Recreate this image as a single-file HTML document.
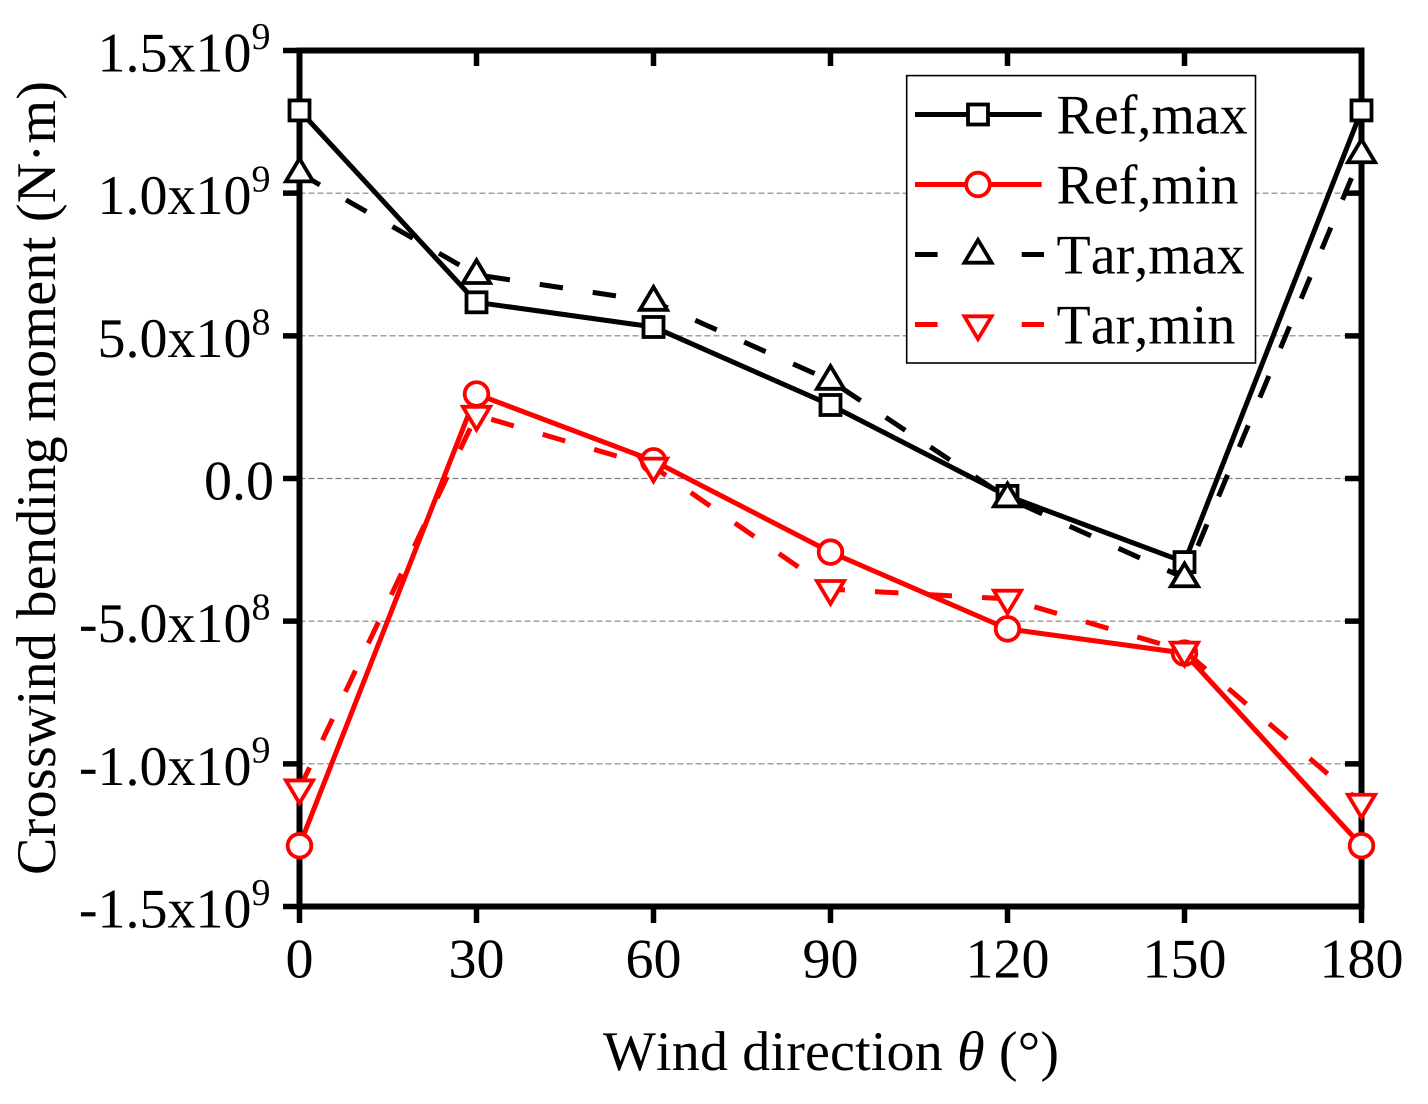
<!DOCTYPE html>
<html lang="en">
<head>
<meta charset="utf-8">
<title>Crosswind bending moment vs wind direction</title>
<style>
html,body{margin:0;padding:0;background:#fff;width:1428px;height:1104px;overflow:hidden}
svg{display:block;font-family:"Liberation Serif",serif;fill:#000;font-kerning:none;text-rendering:geometricPrecision}
</style>
</head>
<body>
<svg id="chart" xmlns="http://www.w3.org/2000/svg" width="1428" height="1104" viewBox="0 0 1428 1104">
  <rect x="0" y="0" width="1428" height="1104" fill="#fff"/>
  <g id="grid"></g>
  <g id="axes"></g>
  <g id="series"></g>
  <text x="603" y="1070" font-size="56" textLength="456">Wind direction <tspan font-style="italic">θ</tspan> (°)</text>
  <text transform="translate(55,875) rotate(-90)" font-size="56" textLength="794">Crosswind bending moment (N·m)</text>
  <g id="legend">
    <rect x="906.7" y="75.6" width="348.8" height="287.4" fill="#fff" stroke="#000" stroke-width="1.6"/>
    <text x="1056.5" y="133.5" font-size="56">Ref,max</text>
    <text x="1056.5" y="203.5" font-size="56">Ref,min</text>
    <text x="1056.5" y="273.5" font-size="56">Tar,max</text>
    <text x="1056.5" y="343.5" font-size="56">Tar,min</text>
  </g>
</svg>
<script>
const xValues = [0, 30, 60, 90, 120, 150, 180];
const refMax = [1.29e9, 0.6175e9, 0.531e9, 0.2576e9, -0.061e9, -0.293e9, 1.29e9];
const refMin = [-1.287e9, 0.296e9, 0.062e9, -0.258e9, -0.527e9, -0.612e9, -1.287e9];
const tarMax = [1.07e9, 0.714e9, 0.62e9, 0.343e9, -0.069e9, -0.349e9, 1.137e9];
const tarMin = [-1.087e9, 0.2225e9, 0.041e9, -0.388e9, -0.422e9, -0.604e9, -1.137e9];
const xTickValues = [0, 30, 60, 90, 120, 150, 180];
const xTickLabels = ['0', '30', '60', '90', '120', '150', '180'];
const yTickValues = [1.5e9, 1.0e9, 5.0e8, 0, -5.0e8, -1.0e9, -1.5e9];
const yTickMantissas = ['1.5x10', '1.0x10', '5.0x10', '0.0', '-5.0x10', '-1.0x10', '-1.5x10'];
const yTickExponents = ['9', '9', '8', '', '8', '9', '9'];

const NS = 'http://www.w3.org/2000/svg';
const plotLeft = 299.5, plotRight = 1361.5, plotTop = 50.5, plotBottom = 906.5;
function xScale(v) { return plotLeft + (v - 0) / 180 * (plotRight - plotLeft); }
function yScale(v) { return plotTop + (1.5e9 - v) / 3e9 * (plotBottom - plotTop); }
function make(tag, attrs) {
  const el = document.createElementNS(NS, tag);
  for (const k in attrs) el.setAttribute(k, attrs[k]);
  return el;
}
function drawMarker(parent, kind, cx, cy, color) {
  let el;
  if (kind === 'square') {
    el = make('rect', {x: cx - 10, y: cy - 10, width: 20, height: 20});
  } else if (kind === 'circle') {
    el = make('circle', {cx: cx, cy: cy, r: 11.8});
  } else if (kind === 'up') {
    el = make('path', {d: 'M' + (cx - 13.6) + ' ' + (cy + 8.2) + 'L' + (cx + 13.6) + ' ' + (cy + 8.2) + 'L' + cx + ' ' + (cy - 14.6) + 'Z'});
  } else {
    el = make('path', {d: 'M' + (cx - 13.6) + ' ' + (cy - 8.2) + 'L' + (cx + 13.6) + ' ' + (cy - 8.2) + 'L' + cx + ' ' + (cy + 14.6) + 'Z'});
  }
  el.setAttribute('fill', '#fff');
  el.setAttribute('stroke', color);
  el.setAttribute('stroke-width', '3.8');
  el.setAttribute('stroke-linejoin', 'miter');
  
  
  parent.appendChild(el);
}

const gridG = document.getElementById('grid');
yTickValues.slice(1, -1).forEach(function (v) {
  const line = make('line', {x1: plotLeft, x2: plotRight, y1: yScale(v), y2: yScale(v), stroke: '#808080', 'stroke-width': 1.2, 'stroke-dasharray': '6 3'});
  
  
  gridG.appendChild(line);
});

const axesG = document.getElementById('axes');
const frameParts = [
  [plotLeft, plotTop - 3, plotLeft, plotBottom + 3],
  [plotRight, plotTop - 3, plotRight, plotBottom + 3],
  [plotLeft - 3, plotTop, plotRight + 3, plotTop],
  [plotLeft - 3, plotBottom, plotRight + 3, plotBottom]
];
frameParts.forEach(function (p) {
  const line = make('line', {x1: p[0], y1: p[1], x2: p[2], y2: p[3], stroke: '#000', 'stroke-width': 6});
  
  
  axesG.appendChild(line);
});
yTickValues.forEach(function (v, i) {
  const y = yScale(v);
  const left = make('line', {x1: 283, x2: plotLeft, y1: y, y2: y, stroke: '#000', 'stroke-width': 5.5});
  
  
  axesG.appendChild(left);
  const right = make('line', {x1: 1345, x2: plotRight, y1: y, y2: y, stroke: '#000', 'stroke-width': 5.5});
  
  
  axesG.appendChild(right);
  const hasExp = yTickExponents[i] !== '';
  const label = make('text', {x: hasExp ? 251.5 : 274, y: y + 21, 'font-size': 56, 'text-anchor': 'end'});
  
  
  label.textContent = yTickMantissas[i];
  axesG.appendChild(label);
  if (hasExp) {
    const e = make('text', {x: 251.5, y: y - 1.5, 'font-size': 38});
    
    
    e.textContent = yTickExponents[i];
    axesG.appendChild(e);
  }
});
xTickValues.forEach(function (v, i) {
  const x = xScale(v);
  const bottom = make('line', {x1: x, x2: x, y1: plotBottom, y2: 923, stroke: '#000', 'stroke-width': 5.5});
  
  
  axesG.appendChild(bottom);
  const top = make('line', {x1: x, x2: x, y1: plotTop, y2: 66, stroke: '#000', 'stroke-width': 5.5});
  
  
  axesG.appendChild(top);
  const label = make('text', {x: x, y: 977.5, 'font-size': 56, 'text-anchor': 'middle'});
  
  
  label.textContent = xTickLabels[i];
  axesG.appendChild(label);
});

const seriesG = document.getElementById('series');
function drawSeries(name, values, color, dashed, kind) {
  const g = make('g', {});
  
  
  const pts = values.map(function (v, i) { return xScale(xValues[i]) + ',' + yScale(v); }).join(' ');
  const line = make('polyline', {points: pts, fill: 'none', stroke: color, 'stroke-width': 5, 'stroke-linejoin': 'miter'});
  if (dashed) line.setAttribute('stroke-dasharray', '23.5 30.1');
  
  
  g.appendChild(line);
  values.forEach(function (v, i) { drawMarker(g, kind, xScale(xValues[i]), yScale(v), color); });
  seriesG.appendChild(g);
}
drawSeries('series-ref-max', refMax, '#000', false, 'square');
drawSeries('series-ref-min', refMin, '#f00', false, 'circle');
drawSeries('series-tar-max', tarMax, '#000', true, 'up');
drawSeries('series-tar-min', tarMin, '#f00', true, 'down');

const legendG = document.getElementById('legend');
function drawLegendKey(name, y, color, dashed, kind) {
  const g = make('g', {});
  
  
  const segs = dashed ? [[915, 937.6], [1021.7, 1044]] : [[915, 1041.7]];
  segs.forEach(function (s) {
    const line = make('line', {x1: s[0], x2: s[1], y1: y, y2: y, stroke: color, 'stroke-width': 5});
    
    
    g.appendChild(line);
  });
  drawMarker(g, kind, 978, y, color);
  legendG.appendChild(g);
}
drawLegendKey('legend-key-ref-max', 114.5, '#000', false, 'square');
drawLegendKey('legend-key-ref-min', 184.5, '#f00', false, 'circle');
drawLegendKey('legend-key-tar-max', 254.5, '#000', true, 'up');
drawLegendKey('legend-key-tar-min', 324.5, '#f00', true, 'down');
</script>
</body>
</html>
